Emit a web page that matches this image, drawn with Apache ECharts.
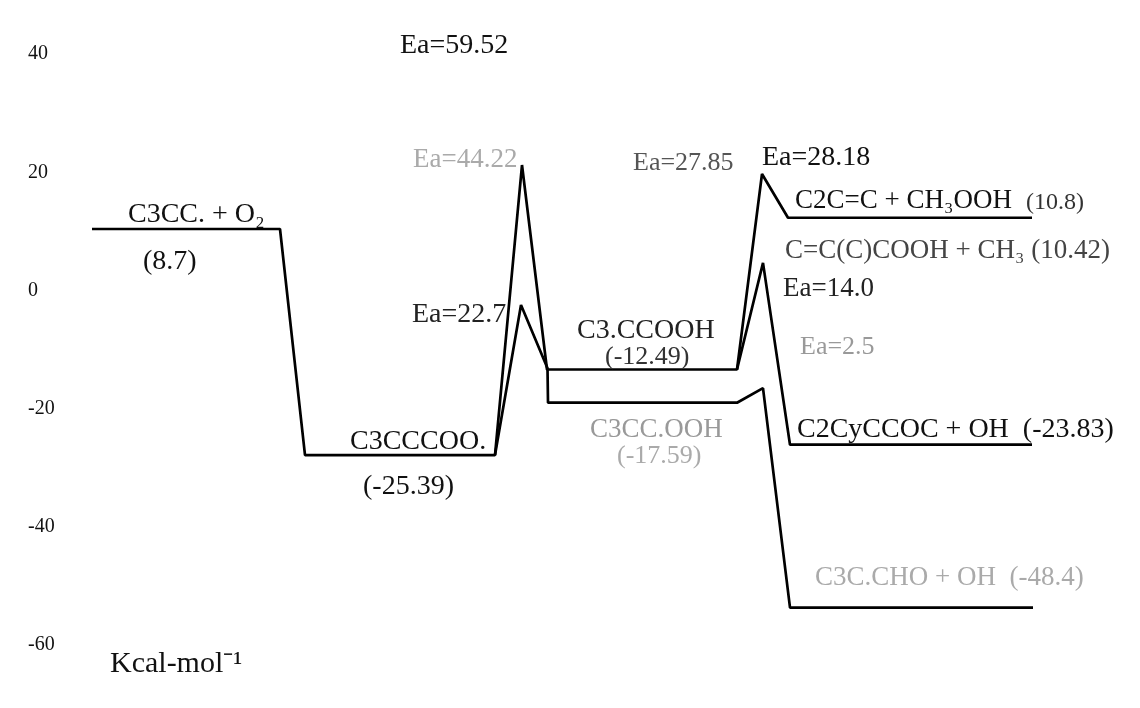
<!DOCTYPE html>
<html>
<head>
<meta charset="utf-8">
<script src="https://cdn.jsdelivr.net/npm/echarts@6/dist/echarts.min.js"></script>
<style>
html,body{margin:0;padding:0;background:#fff;}
#chart{width:1140px;height:708px;}
</style>
</head>
<body>
<div id="chart"></div>
<script>
// ---- Data (reaction coordinate, energy in kcal/mol) ----
const mainPathX = [9.2, 28.0, 30.5, 49.5, 52.2, 54.7, 73.7, 76.2, 78.8, 103.2];
const mainPathE = [8.7, 8.7, -25.39, -25.39, 18.35, -12.49, -12.49, 17.0, 10.4, 10.4];
const lowPathX  = [49.5, 52.1, 54.75, 54.8, 73.7, 76.3, 79.0, 103.3];
const lowPathE  = [-25.39, -2.76, -12.3, -17.5, -17.5, -15.3, -48.4, -48.4];
const branchX   = [73.7, 76.3, 79.0, 103.2];
const branchE   = [-12.49, 3.6, -23.83, -23.83];
const yTickLabels = ['-60', '-40', '-20', '0', '20', '40'];
const annotationTexts = [
  'Ea=59.52', 'Ea=44.22', 'C3CC. + O₂', '(8.7)', 'Ea=22.7', 'C3CCCOO.', '(-25.39)',
  'C3.CCOOH', '(-12.49)', 'C3CC.OOH', '(-17.59)', 'Ea=27.85', 'Ea=28.18',
  'C2C=C + CH₃OOH', '(10.8)', 'C=C(C)COOH + CH₃ (10.42)', 'Ea=14.0', 'Ea=2.5',
  'C2CyCCOC + OH  (-23.83)', 'C3C.CHO + OH  (-48.4)', 'Kcal-mol⁻¹'
];

// ---- Layout / style (not data) ----
const FONT = '"Liberation Serif", "Times New Roman", serif';
const annotationLayout = [
  {x: 400, y: 46, c: '#111', s: 28},
  {x: 413, y: 160, c: '#aaa', s: 27},
  {x: 128, y: 215, c: '#111', s: 28},
  {x: 143, y: 262, c: '#111', s: 28},
  {x: 412, y: 315, c: '#222', s: 28},
  {x: 350, y: 442, c: '#111', s: 28},
  {x: 363, y: 487, c: '#111', s: 28},
  {x: 577, y: 331, c: '#222', s: 28},
  {x: 605, y: 357, c: '#333', s: 26},
  {x: 590, y: 430, c: '#999', s: 27},
  {x: 617, y: 456, c: '#aaa', s: 26},
  {x: 633, y: 163, c: '#555', s: 26},
  {x: 762, y: 158, c: '#111', s: 28},
  {x: 795, y: 201, c: '#111', s: 27},
  {x: 1026, y: 203, c: '#333', s: 24},
  {x: 785, y: 251, c: '#444', s: 27},
  {x: 783, y: 289, c: '#222', s: 27},
  {x: 800, y: 347, c: '#999', s: 26},
  {x: 797, y: 430, c: '#111', s: 28},
  {x: 815, y: 578, c: '#aaa', s: 27},
  {x: 110, y: 664, c: '#111', s: 30}
];

function pairs(xs, ys) { return xs.map((x, i) => [x, ys[i]]); }

const chart = echarts.init(document.getElementById('chart'), null, {renderer: 'canvas'});
const lineStyle = {color: '#000', width: 2.7};

const option = {
  backgroundColor: '#fff',
  animation: false,
  grid: {left: 0, right: 0, top: 50, bottom: 55},
  xAxis: {type: 'value', min: 0, max: 114, show: false},
  yAxis: [
    {type: 'value', min: -55.25, max: 35.7, show: false},
    {
      type: 'value', min: -61.4, max: 40.7, splitNumber: 5, position: 'left',
      axisLine: {show: false}, axisTick: {show: false}, splitLine: {show: false},
      axisLabel: {
        inside: true, margin: 28, align: 'left',
        fontFamily: FONT, fontSize: 20, color: '#111',
        showMinLabel: false, showMaxLabel: false,
        formatter: v => { const i = yTickLabels.indexOf(String(v)); return i >= 0 ? yTickLabels[i] : ''; }
      }
    }
  ],
  series: [
    {type: 'line', yAxisIndex: 0, data: pairs(mainPathX, mainPathE), showSymbol: false, symbol: 'none', lineStyle: lineStyle, z: 3},
    {type: 'line', yAxisIndex: 0, data: pairs(lowPathX, lowPathE), showSymbol: false, symbol: 'none', lineStyle: lineStyle, z: 3},
    {type: 'line', yAxisIndex: 0, data: pairs(branchX, branchE), showSymbol: false, symbol: 'none', lineStyle: lineStyle, z: 3}
  ],
  graphic: annotationTexts.map((t, i) => ({
    type: 'text',
    x: annotationLayout[i].x,
    y: annotationLayout[i].y,
    z: 10,
    style: {
      text: t,
      fill: annotationLayout[i].c,
      font: annotationLayout[i].s + 'px ' + FONT,
      align: 'left',
      verticalAlign: 'middle'
    }
  }))
};
chart.setOption(option);
</script>
</body>
</html>
